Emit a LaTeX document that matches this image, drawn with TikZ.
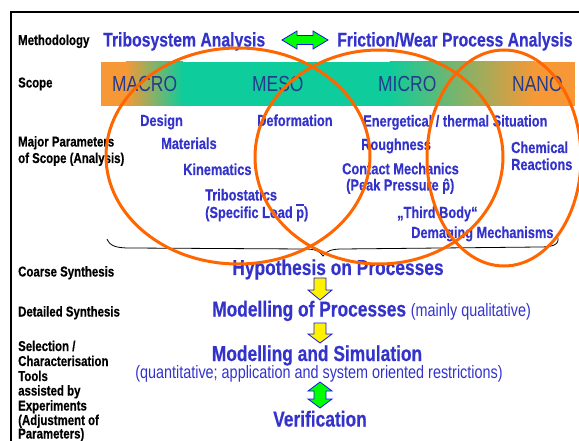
\documentclass[tikz,border=0pt]{standalone}
\usepackage{fontspec}
\setmainfont{Liberation Sans}[FakeStretch=0.8, BoldFeatures={FakeBold=0.4}]
\definecolor{txtblue}{RGB}{51,51,204}
\definecolor{barblue}{RGB}{35,60,140}
\definecolor{ellorange}{RGB}{255,102,0}
\definecolor{barorange}{RGB}{247,152,54}
\definecolor{bargreen}{RGB}{14,204,155}
\definecolor{arrowblue}{RGB}{20,20,240}
\newcommand\accp[1]{\leavevmode\setbox0\hbox{p}\rlap{\hbox to \wd0{\hss\smash{#1}\hss}}p}
\tikzset{
  lbl/.style={anchor=base west, inner sep=0pt, font=\fontsize{14.3}{15}\selectfont\bfseries, text=black},
  param/.style={anchor=base west, inner sep=0pt, font=\fontsize{16}{17}\selectfont\bfseries, text=txtblue},
  meth/.style={anchor=base west, inner sep=0pt, font=\fontsize{19.7}{20}\selectfont\bfseries, text=txtblue},
  scopelbl/.style={anchor=base west, inner sep=0pt, font=\fontsize{21.8}{22}\selectfont, text=barblue},
  flow/.style={anchor=base, inner sep=0pt, font=\fontsize{21.7}{22}\selectfont\bfseries, text=txtblue},
  flowsub/.style={anchor=base, inner sep=0pt, font=\fontsize{18}{19}\selectfont, text=txtblue},
  ell/.style={draw=ellorange, line width=3pt},
  yarrow/.style={draw=arrowblue, fill=yellow, line width=0.8pt},
  garrow/.style={draw=arrowblue, fill=green, line width=0.8pt},
}
\begin{document}
\begin{tikzpicture}[x=1pt,y=-1pt]
\useasboundingbox (0,0) rectangle (579,441);
% frame
\draw[line width=2pt] (11,445) -- (11,12) -- (585,12);
% scope bar
\fill[barorange] (101,62) rectangle (126,106);
\shade[left color=barorange, right color=bargreen] (125.5,62) rectangle (183,106);
\fill[bargreen] (182.5,62) rectangle (390,106);
\shade[left color=bargreen, right color=barorange] (389.5,62) rectangle (535,106);
\fill[barorange] (534.5,62) rectangle (575,106);
% left labels
\node[lbl] (lmeth) at (18,45) {Methodology};
\node[lbl] (lscope) at (18,87.5) {Scope};
\node[lbl] (lmaj1) at (18,146.5) {Major Parameters};
\node[lbl] (lmaj2) at (18,163) {of Scope (Analysis)};
\node[lbl] (lcoarse) at (18,276.5) {Coarse Synthesis};
\node[lbl] (ldet) at (18,316.5) {Detailed Synthesis};
\node[lbl] (lsel1) at (18,351) {Selection /};
\node[lbl] (lsel2) at (18,366) {Characterisation};
\node[lbl] (lsel3) at (18,381) {Tools};
\node[lbl] (lsel4) at (18,395.5) {assisted by};
\node[lbl] (lsel5) at (18,410.5) {Experiments};
\node[lbl] (lsel6) at (18,425) {(Adjustment of};
\node[lbl] (lsel7) at (18,438.5) {Parameters)};
% methodology
\node[meth] (tribo) at (103,46.5) {Tribosystem Analysis};
\node[meth] (fric) at (337,46.5) {Friction/Wear Process Analysis};
\draw[garrow] (282,40) -- (297,31) -- (297,35.5) -- (313,35.5) -- (313,31) -- (328,40)
  -- (313,49) -- (313,44.5) -- (297,44.5) -- (297,49) -- cycle;
% scope labels
\node[scopelbl] (macro) at (112,91.5) {MACRO};
\node[scopelbl] (meso) at (252,91.5) {MESO};
\node[scopelbl] (micro) at (378,91.5) {MICRO};
\node[scopelbl] (nano) at (512,91.5) {NANO};
% parameters
\node[param] (design) at (140,126) {Design};
\node[param] (mater) at (161,149) {Materials};
\node[param] (kine) at (183,175) {Kinematics};
\node[param] (tstat1) at (205,200.5) {Tribostatics};
\node[param] (tstat2) at (205,218) {(Specific Load \accp{\rule[0.78em]{0.5em}{0.07em}})};
\node[param] (deform) at (257,126) {Deformation};
\node[param] (energ) at (363,126.5) {Energetical / thermal Situation};
\node[param] (rough) at (361,150) {Roughness};
\node[param] (contact1) at (342,174.3) {Contact Mechanics};
\node[param] (contact2) at (346,190.5) {(Peak Pressure \accp{ˆ})};
\node[param] (third) at (397,218) {„Third Body“};
\node[param] (demag) at (411,238) {Demaging Mechanisms};
\node[param] (chem1) at (511,153) {Chemical};
\node[param] (chem2) at (511,170) {Reactions};
% brace
\draw[line width=0.8pt] (107,239) .. controls (110,246) and (116,248) .. (130,248) -- (305,249)
  .. controls (315,249) and (320,251) .. (323,256) .. controls (326,251) and (332,249) .. (342,249)
  -- (540,247) .. controls (552,247) and (559,245) .. (558,238);
% flow
\node[flow] (hypo) at (338,275) {Hypothesis on Processes};
\node[flow, anchor=base west] (model) at (212,316.5) {Modelling of Processes {\fontsize{18}{19}\selectfont\mdseries (mainly qualitative)}};
\node[flow] (sim) at (317,361) {Modelling and Simulation};
\node[flowsub] (quant) at (319,378) {(quantitative; application and system oriented restrictions)};
\node[flow] (verif) at (320,426.5) {Verification};
\draw[yarrow] (314,278) -- (326,278) -- (326,290) -- (332,290) -- (320,300) -- (308,290) -- (314,290) -- cycle;
\draw[yarrow] (314,323) -- (326,323) -- (326,334) -- (332,334) -- (320,343) -- (308,334) -- (314,334) -- cycle;
\draw[garrow] (320,382) -- (332,391) -- (326,391) -- (326,399) -- (332,399) -- (320,408)
  -- (308,399) -- (314,399) -- (314,391) -- (308,391) -- cycle;
% ellipses
\draw[ell] (238,156) ellipse [x radius=132pt, y radius=108pt];
\draw[ell] (379,157) ellipse [x radius=124pt, y radius=107pt];
\draw[ell] (504,158) ellipse [x radius=77pt, y radius=108pt];
\end{tikzpicture}
\end{document}
